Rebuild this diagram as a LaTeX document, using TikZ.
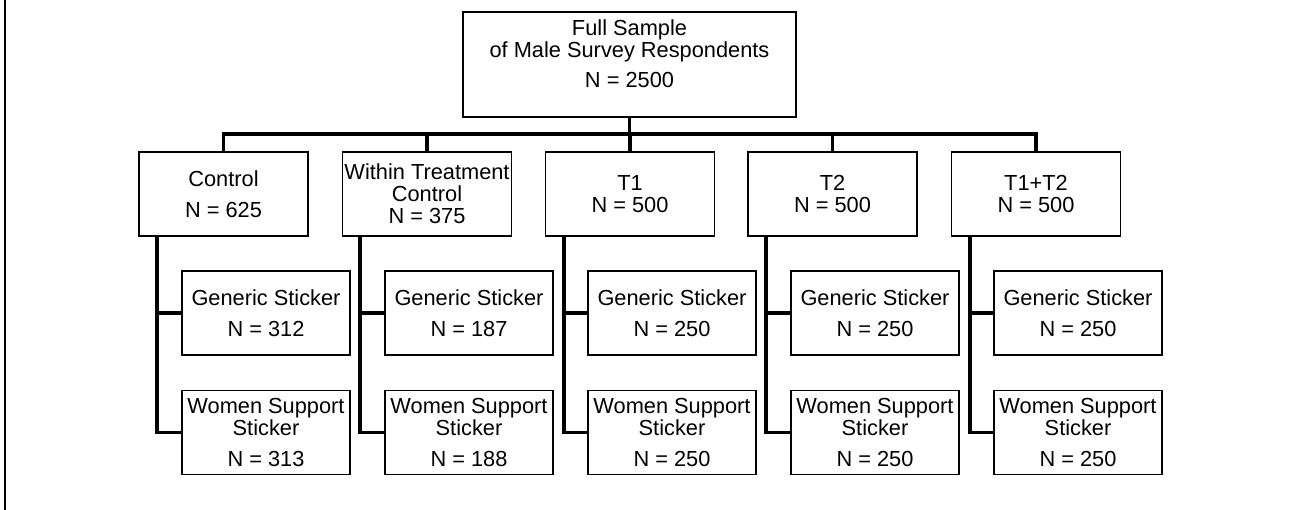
\documentclass[tikz,border=0pt]{standalone}
\usepackage{fontspec}
\setmainfont{Liberation Sans}

\begin{document}
\begin{tikzpicture}
\tikzstyle{top} = [rectangle, minimum width=6.66cm, minimum height=2.1cm, text depth=12.5pt, align=center, draw=black, line width=0.9pt, inner sep=1pt, font=\fontsize{12.4}{12.5}\selectfont]
\tikzstyle{arm} = [rectangle, minimum width=3.38cm, minimum height=1.68cm, align=center, draw=black, line width=0.9pt, inner sep=1pt, font=\fontsize{12.4}{12.5}\selectfont]
\tikzstyle{sub} = [rectangle, minimum width=3.36cm, minimum height=1.68cm, align=center, draw=black, line width=0.9pt, inner sep=1pt, font=\fontsize{12.4}{12.5}\selectfont]
\tikzstyle{link} = [line width=2.2pt]

\useasboundingbox (0,0) rectangle (25.9,-10.2);
\draw[line width=1.1pt] (0.106,0) -- (0.106,-10.2);

% Sample
\node (full) [top] at (12.59,-1.29) {Full Sample\\of Male Survey Respondents\\[5pt]N = 2500};

% Arms
\node (ctrl) [arm] at (4.47,-3.88) {Control\\[5pt]N = 625};
\node (within) [arm] at (8.54,-3.88) {Within Treatment\\Control\\N = 375};
\node (tone) [arm] at (12.60,-3.88) {T1\\N = 500};
\node (ttwo) [arm] at (16.65,-3.88) {T2\\N = 500};
\node (tboth) [arm] at (20.72,-3.88) {T1+T2\\N = 500};

% Stickers for ctrl
\node (gen1) [sub] at (5.32,-6.26) {Generic Sticker\\[5pt]N = 312};
\node (wom1) [sub] at (5.32,-8.65) {Women Support\\Sticker\\[5pt]N = 313};

% for within
\node (gen2) [sub] at (9.38,-6.26) {Generic Sticker\\[5pt]N = 187};
\node (wom2) [sub] at (9.38,-8.65) {Women Support\\Sticker\\[5pt]N = 188};

% for tone
\node (gen3) [sub] at (13.44,-6.26) {Generic Sticker\\[5pt]N = 250};
\node (wom3) [sub] at (13.44,-8.65) {Women Support\\Sticker\\[5pt]N = 250};

% for ttwo
\node (gen4) [sub] at (17.50,-6.26) {Generic Sticker\\[5pt]N = 250};
\node (wom4) [sub] at (17.50,-8.65) {Women Support\\Sticker\\[5pt]N = 250};

% for tboth
\node (gen5) [sub] at (21.56,-6.26) {Generic Sticker\\[5pt]N = 250};
\node (wom5) [sub] at (21.56,-8.65) {Women Support\\Sticker\\[5pt]N = 250};

% Branches
\coordinate (bus) at (12.59,-2.68);
\coordinate (bus2) at (8.54,-2.68);
\coordinate (bus3) at (12.60,-2.68);
\coordinate (bus4) at (16.65,-2.68);

\coordinate (trunk1) at (3.14,-4.72);
\coordinate (trunk2) at (7.20,-4.72);
\coordinate (trunk3) at (11.28,-4.72);
\coordinate (trunk4) at (15.32,-4.72);
\coordinate (trunk5) at (19.40,-4.72);

% Draws
% From sample to arms
\draw[link] (full) -- (bus);
\draw[link] (ctrl) |- (bus);
\draw[link] (tboth) |- (bus);
\draw[link] (bus2) -- (within);
\draw[link] (bus3) -- (tone);
\draw[link] (bus4) -- (ttwo);

% From arms to stickers
\draw[link] (trunk1) |- (wom1);
\draw[link] (trunk1 |- gen1) -- (gen1);

\draw[link] (trunk2) |- (wom2);
\draw[link] (trunk2 |- gen2) -- (gen2);

\draw[link] (trunk3) |- (wom3);
\draw[link] (trunk3 |- gen3) -- (gen3);

\draw[link] (trunk4) |- (wom4);
\draw[link] (trunk4 |- gen4) -- (gen4);

\draw[link] (trunk5) |- (wom5);
\draw[link] (trunk5 |- gen5) -- (gen5);
\end{tikzpicture}
\end{document}
